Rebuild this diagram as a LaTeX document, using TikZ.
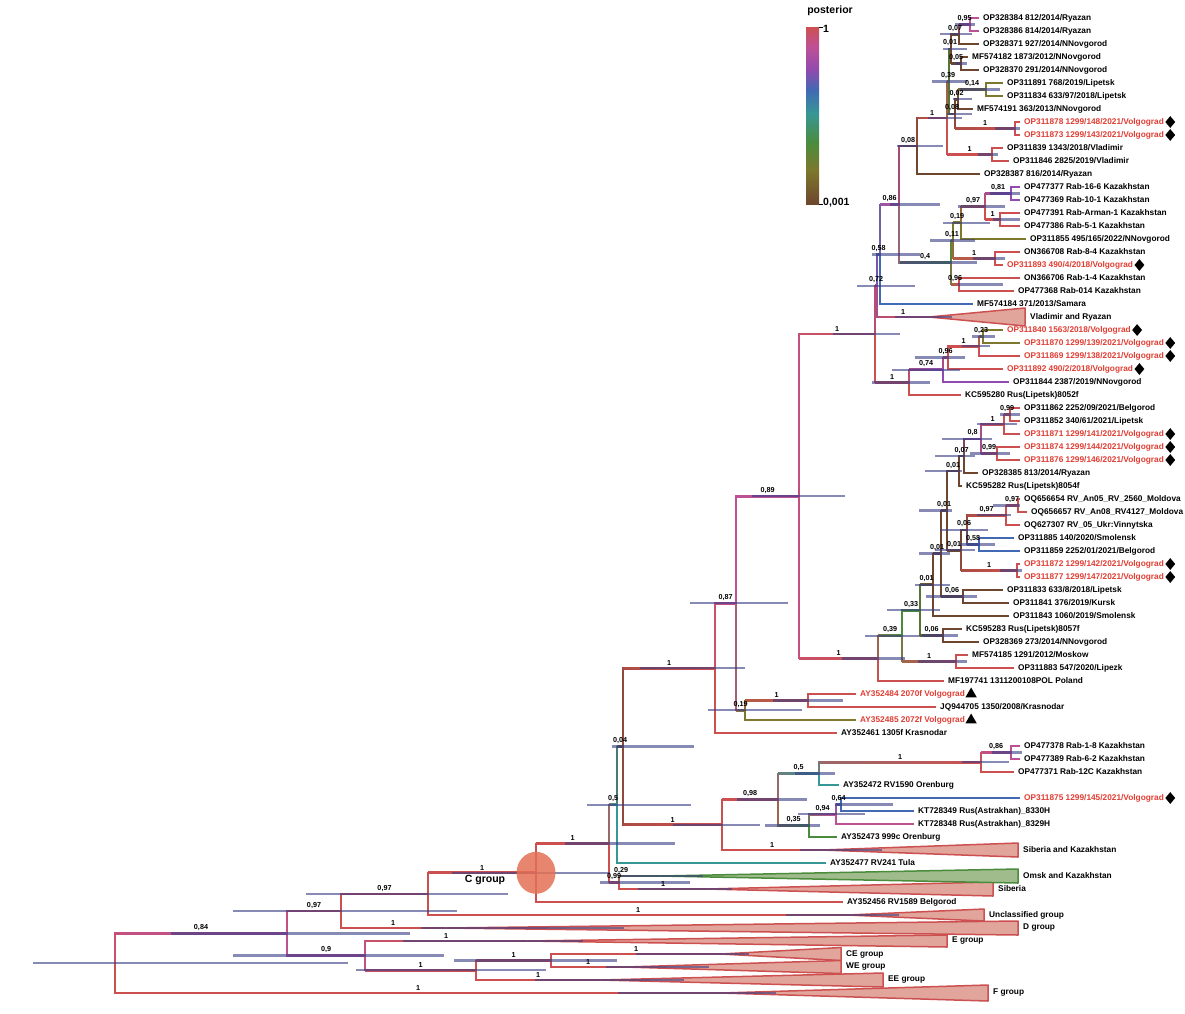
\documentclass[tikz,border=0pt]{standalone}
\usepackage{fontspec}
\setmainfont{Liberation Sans}
\usetikzlibrary{calc,positioning,shapes.geometric}

\definecolor{pR}{RGB}{205,80,80}
\definecolor{pM}{RGB}{190,80,150}
\definecolor{pV}{RGB}{145,75,175}
\definecolor{pB}{RGB}{65,105,180}
\definecolor{pT}{RGB}{55,150,150}
\definecolor{pG}{RGB}{75,140,60}
\definecolor{pO}{RGB}{125,120,45}
\definecolor{pN}{RGB}{110,70,45}
\definecolor{barblue}{RGB}{55,60,130}
\definecolor{wedgefill}{RGB}{225,165,155}
\definecolor{wedgegreen}{RGB}{160,188,140}
\definecolor{labred}{RGB}{225,60,50}
\definecolor{cgroupdot}{RGB}{228,112,85}

\pgfdeclareverticalshading{postshade}{100bp}{color(0bp)=(pN); color(25bp)=(pN); color(34.6bp)=(pO); color(42.2bp)=(pG); color(50.7bp)=(pT); color(57.2bp)=(pB); color(62.9bp)=(pV); color(69.4bp)=(pM); color(75bp)=(pR); color(100bp)=(pR)}

\tikzset{
  branch/.style={line width=1.8pt, line cap=rect},
  hpd/.style={line width=2.4pt, draw=barblue, draw opacity=0.6},
  tip/.style={anchor=west, inner xsep=5pt, inner ysep=0pt, font=\fontsize{8.3}{9}\selectfont\bfseries},
  tipred/.style={tip, text=labred},
  grp/.style={tip},
  supp/.style={above, inner sep=0.6pt, yshift=2pt, font=\fontsize{7.2}{8}\selectfont\bfseries},
  leg/.style={inner sep=1pt, font=\fontsize{10.5}{12}\selectfont\bfseries},
  wedgeR/.style={draw=pR, fill=wedgefill, line width=1.5pt, line join=round},
  wedgeG/.style={draw=pG, fill=wedgegreen, line width=1.5pt, line join=round},
  diam/.style={diamond, fill=black, inner sep=0pt, minimum width=10pt, minimum height=12pt},
  tri/.style={regular polygon, regular polygon sides=3, fill=black, inner sep=0pt, minimum size=13pt},
}

% branch: vertical at the parent, horizontal fading into the child colour
\newcommand{\brch}[4]{%
  \colorlet{brV}{#3!65!#4}\colorlet{brL}{#3!35!#4}\colorlet{brR}{#4}%
  \draw[branch, draw=brV] (#1) -- (#1 |- #2);
  \shade[left color=brL, right color=brR] ($(#1 |- #2)+(0,-0.9)$) rectangle ($(#2)+(0,0.9)$);}

\begin{document}
\begin{tikzpicture}[x=1pt,y=-1pt]
\useasboundingbox (0,0) rectangle (1185,1013);

% internal nodes
\coordinate (root) at (115,963.2);
\coordinate (n287) at (287,933.3);
\coordinate (n341) at (341,911);
\coordinate (n428) at (428,893.9);
\coordinate (n536) at (536,872.8);
\coordinate (n365) at (365,955.6);
\coordinate (n476) at (476,970.25);
\coordinate (n551) at (551,960.5);
\coordinate (n611) at (609,843.6);
\coordinate (n617) at (617,804.7);
\coordinate (n618) at (619,882.5);
\coordinate (n624) at (623,746.5);
\coordinate (n716) at (715,668.1);
\coordinate (n722) at (722,824.8);
\coordinate (n777) at (778,799.6);
\coordinate (n820) at (819,773.6);
\coordinate (n981) at (981,762.25);
\coordinate (n1013) at (1011,752.5);
\coordinate (n809) at (809,825.6);
\coordinate (n835) at (836,814.25);
\coordinate (n841) at (841,804.5);
\coordinate (n735) at (736,603.2);
\coordinate (n745) at (745,710.25);
\coordinate (n810) at (808,700.5);
\coordinate (n798) at (799,496.2);
\coordinate (n878) at (878,658.4);
\coordinate (n903) at (902,635.8);
\coordinate (n921) at (920,610.1);
\coordinate (n942) at (943,635.5);
\coordinate (n956) at (956,661.5);
\coordinate (nA) at (933,584.8);
\coordinate (nB) at (941,553.6);
\coordinate (nC) at (947,510.6);
\coordinate (n962) at (963,596.5);
\coordinate (nD) at (959,471);
\coordinate (n007b) at (964,456);
\coordinate (n08) at (981,438.9);
\coordinate (n1003) at (1004,424.25);
\coordinate (n1009) at (1010,414.5);
\coordinate (n996) at (997,453.5);
\coordinate (nE) at (961,550.2);
\coordinate (n966) at (967,529.9);
\coordinate (n1005) at (1006,515.25);
\coordinate (n1016) at (1018,505.5);
\coordinate (n978) at (979,544.5);
\coordinate (n1017V) at (1017,570.5);
\coordinate (n875) at (875,334);
\coordinate (n909) at (909,382.4);
\coordinate (n074) at (943,369.8);
\coordinate (n096) at (948,357.6);
\coordinate (n963) at (979,346.25);
\coordinate (n023) at (983,336.5);
\coordinate (n072) at (877,285.7);
\coordinate (n058) at (880,254.3);
\coordinate (n086) at (899,204.6);
\coordinate (n04) at (951,262.6);
\coordinate (n011) at (953,240.6);
\coordinate (n096b) at (959,284.5);
\coordinate (n019) at (961,222.75);
\coordinate (n1kz) at (995,258.5);
\coordinate (n097) at (985,206.5);
\coordinate (n081) at (1011,193.5);
\coordinate (n1b) at (1000,219.5);
\coordinate (n917) at (917,146);
\coordinate (n948) at (947,117.9);
\coordinate (n1Vl) at (992,154.5);
\coordinate (n039) at (949,81.4);
\coordinate (n001) at (951,48.9);
\coordinate (n007) at (959,34.25);
\coordinate (n095) at (970,24.5);
\coordinate (n005) at (961,63.5);
\coordinate (n008b) at (955,113.9);
\coordinate (n002) at (958,99.25);
\coordinate (n014) at (986,89.5);
\coordinate (n1V) at (1015,128.5);

% collapsed clades (apex of each wedge)
\coordinate (w24) at (929,317);
\coordinate (w65) at (822,850);
\coordinate (w67) at (660,876);
\coordinate (w68) at (707,889);
\coordinate (w70) at (848,915);
\coordinate (w71) at (445,928);
\coordinate (w72) at (527,941);
\coordinate (w73) at (721,954);
\coordinate (w74) at (625,967);
\coordinate (w75) at (600,980);
\coordinate (w76) at (721,993);

% tips
\node[tip] (t1) at (978,18) {OP328384 812/2014/Ryazan};
\node[tip] (t2) at (978,31) {OP328386 814/2014/Ryazan};
\node[tip] (t3) at (978,44) {OP328371 927/2014/NNovgorod};
\node[tip] (t4) at (967,57) {MF574182 1873/2012/NNovgorod};
\node[tip] (t5) at (978,70) {OP328370 291/2014/NNovgorod};
\node[tip] (t6) at (1002,83) {OP311891 768/2019/Lipetsk};
\node[tip] (t7) at (1002,96) {OP311834 633/97/2018/Lipetsk};
\node[tip] (t8) at (972,109) {MF574191 363/2013/NNovgorod};
\node[tipred] (t9) at (1019,122) {OP311878 1299/148/2021/Volgograd};
\node[tipred] (t10) at (1019,135) {OP311873 1299/143/2021/Volgograd};
\node[tip] (t11) at (1002,148) {OP311839 1343/2018/Vladimir};
\node[tip] (t12) at (1008,161) {OP311846 2825/2019/Vladimir};
\node[tip] (t13) at (979,174) {OP328387 816/2014/Ryazan};
\node[tip] (t14) at (1019,187) {OP477377 Rab-16-6 Kazakhstan};
\node[tip] (t15) at (1019,200) {OP477369 Rab-10-1 Kazakhstan};
\node[tip] (t16) at (1019,213) {OP477391 Rab-Arman-1 Kazakhstan};
\node[tip] (t17) at (1019,226) {OP477386 Rab-5-1 Kazakhstan};
\node[tip] (t18) at (1025,239) {OP311855 495/165/2022/NNovgorod};
\node[tip] (t19) at (1019,252) {ON366708 Rab-8-4 Kazakhstan};
\node[tipred] (t20) at (1002,265) {OP311893 490/4/2018/Volgograd};
\node[tip] (t21) at (1019,278) {ON366706 Rab-1-4 Kazakhstan};
\node[tip] (t22) at (1013,291) {OP477368 Rab-014 Kazakhstan};
\node[tip] (t23) at (972,304) {MF574184 371/2013/Samara};
\node[grp] (g24) at (1025,317) {Vladimir and Ryazan};
\node[tipred] (t25) at (1002,330) {OP311840 1563/2018/Volgograd};
\node[tipred] (t26) at (1019,343) {OP311870 1299/139/2021/Volgograd};
\node[tipred] (t27) at (1019,356) {OP311869 1299/138/2021/Volgograd};
\node[tipred] (t28) at (1002,369) {OP311892 490/2/2018/Volgograd};
\node[tip] (t29) at (1008,382) {OP311844 2387/2019/NNovgorod};
\node[tip] (t30) at (960,395) {KC595280 Rus(Lipetsk)8052f};
\node[tip] (t31) at (1019,408) {OP311862 2252/09/2021/Belgorod};
\node[tip] (t32) at (1019,421) {OP311852 340/61/2021/Lipetsk};
\node[tipred] (t33) at (1019,434) {OP311871 1299/141/2021/Volgograd};
\node[tipred] (t34) at (1019,447) {OP311874 1299/144/2021/Volgograd};
\node[tipred] (t35) at (1019,460) {OP311876 1299/146/2021/Volgograd};
\node[tip] (t36) at (977,473) {OP328385 813/2014/Ryazan};
\node[tip] (t37) at (961,486) {KC595282 Rus(Lipetsk)8054f};
\node[tip] (t38) at (1019,499) {OQ656654 RV\_An05\_RV\_2560\_Moldova};
\node[tip] (t39) at (1026,512) {OQ656657 RV\_An08\_RV4127\_Moldova};
\node[tip] (t40) at (1019,525) {OQ627307 RV\_05\_Ukr:Vinnytska};
\node[tip] (t41) at (1013,538) {OP311885 140/2020/Smolensk};
\node[tip] (t42) at (1019,551) {OP311859 2252/01/2021/Belgorod};
\node[tipred] (t43) at (1019,564) {OP311872 1299/142/2021/Volgograd};
\node[tipred] (t44) at (1019,577) {OP311877 1299/147/2021/Volgograd};
\node[tip] (t45) at (1002,590) {OP311833 633/8/2018/Lipetsk};
\node[tip] (t46) at (1008,603) {OP311841 376/2019/Kursk};
\node[tip] (t47) at (1008,616) {OP311843 1060/2019/Smolensk};
\node[tip] (t48) at (961,629) {KC595283 Rus(Lipetsk)8057f};
\node[tip] (t49) at (978,642) {OP328369 273/2014/NNovgorod};
\node[tip] (t50) at (967,655) {MF574185 1291/2012/Moskow};
\node[tip] (t51) at (1013,668) {OP311883 547/2020/Lipezk};
\node[tip] (t52) at (943,681) {MF197741 1311200108POL Poland};
\node[tipred] (t53) at (855,694) {AY352484 2070f Volgograd};
\node[tip] (t54) at (935,707) {JQ944705 1350/2008/Krasnodar};
\node[tipred] (t55) at (855,720) {AY352485 2072f Volgograd};
\node[tip] (t56) at (836,733) {AY352461 1305f Krasnodar};
\node[tip] (t57) at (1019,746) {OP477378 Rab-1-8 Kazakhstan};
\node[tip] (t58) at (1019,759) {OP477389 Rab-6-2 Kazakhstan};
\node[tip] (t59) at (1013,772) {OP477371 Rab-12C Kazakhstan};
\node[tip] (t60) at (838,785) {AY352472 RV1590 Orenburg};
\node[tipred] (t61) at (1019,798) {OP311875 1299/145/2021/Volgograd};
\node[tip] (t62) at (913,811) {KT728349 Rus(Astrakhan)\_8330H};
\node[tip] (t63) at (913,824) {KT728348 Rus(Astrakhan)\_8329H};
\node[tip] (t64) at (836,837) {AY352473 999c Orenburg};
\node[grp] (g65) at (1018,850) {Siberia and Kazakhstan};
\node[tip] (t66) at (825,863) {AY352477 RV241 Tula};
\node[grp] (g67) at (1018,876) {Omsk and Kazakhstan};
\node[grp] (g68) at (993,889) {Siberia};
\node[tip] (t69) at (842,902) {AY352456 RV1589 Belgorod};
\node[grp] (g70) at (984,915) {Unclassified group};
\node[grp] (g71) at (1018,928) {D group};
\node[grp] (g72) at (947,941) {E group};
\node[grp] (g73) at (841,954) {CE group};
\node[grp] (g74) at (841,967) {WE group};
\node[grp] (g75) at (883,980) {EE group};
\node[grp] (g76) at (988,993) {F group};

% branches between internal nodes
\foreach \p/\c/\pc/\cc in {n007/n095/pN/pM, n001/n007/pN/pN, n001/n005/pN/pN, n039/n001/pG/pN,
  n002/n014/pN/pO, n008b/n002/pN/pN, n008b/n1V/pN/pR, n039/n008b/pG/pN, n948/n039/pR/pG,
  n948/n1Vl/pR/pR, n917/n948/pN/pR, n086/n917/pM/pN, n097/n081/pR/pV, n097/n1b/pR/pR,
  n019/n097/pO/pR, n011/n019/pO/pO, n011/n1kz/pO/pR, n04/n011/pG/pO, n04/n096b/pG/pR,
  n086/n04/pM/pG, n058/n086/pB/pM, n072/n058/pV/pB, n072/w24/pV/pR, n875/n072/pR/pV,
  n963/n023/pR/pO, n096/n963/pR/pR, n074/n096/pV/pR, n909/n074/pR/pV, n875/n909/pR/pR,
  n798/n875/pM/pR, n1003/n1009/pR/pR, n08/n1003/pV/pR, n08/n996/pV/pR, n007b/n08/pN/pV,
  nD/n007b/pN/pN, nC/nD/pN/pN, n1005/n1016/pR/pR, n966/n1005/pN/pR, n966/n978/pN/pB,
  nE/n966/pN/pN, nE/n1017V/pN/pR, nC/nE/pN/pN, nB/nC/pN/pN, nB/n962/pN/pN, nA/nB/pN/pN,
  n921/nA/pG/pN, n921/n942/pG/pN, n903/n921/pG/pG, n903/n956/pG/pR, n878/n903/pR/pG,
  n798/n878/pM/pR, n735/n798/pM/pM, n745/n810/pO/pR, n735/n745/pM/pO, n716/n735/pR/pM,
  n624/n716/pN/pR, n981/n1013/pR/pM, n820/n981/pT/pR, n777/n820/pR/pT, n835/n841/pM/pB,
  n809/n835/pG/pM, n777/n809/pR/pG, n722/n777/pR/pR, n722/w65/pR/pR, n624/n722/pN/pR,
  n617/n624/pT/pN, n611/n617/pR/pT, n618/w67/pR/pG, n618/w68/pR/pR, n611/n618/pR/pR,
  n536/n611/pR/pR, n428/n536/pR/pR, n428/w70/pR/pR, n341/n428/pR/pR, n341/w71/pR/pR,
  n287/n341/pM/pR, n365/w72/pM/pR, n551/w73/pR/pR, n551/w74/pR/pR, n476/n551/pR/pR,
  n476/w75/pR/pR, n365/n476/pM/pR, n287/n365/pM/pM, root/n287/pR/pM, root/w76/pR/pR}
  {\brch{\p}{\c}{\pc}{\cc}}

% branches to the tips
\foreach \p/\t/\c in {n095/t1/pM, n095/t2/pM, n007/t3/pN, n005/t4/pN, n005/t5/pN, n014/t6/pO,
  n014/t7/pO, n002/t8/pN, n1V/t9/pR, n1V/t10/pR, n1Vl/t11/pR, n1Vl/t12/pR, n917/t13/pN,
  n081/t14/pV, n081/t15/pV, n1b/t16/pR, n1b/t17/pR, n019/t18/pO, n1kz/t19/pR, n1kz/t20/pR,
  n096b/t21/pR, n096b/t22/pR, n058/t23/pB, n023/t25/pO, n023/t26/pO, n963/t27/pR,
  n096/t28/pR, n074/t29/pV, n909/t30/pR, n1009/t31/pR, n1009/t32/pR, n1003/t33/pR,
  n996/t34/pR, n996/t35/pR, n007b/t36/pN, nD/t37/pN, n1016/t38/pR, n1016/t39/pR,
  n1005/t40/pR, n978/t41/pB, n978/t42/pB, n1017V/t43/pR, n1017V/t44/pR, n962/t45/pN,
  n962/t46/pN, nA/t47/pN, n942/t48/pN, n942/t49/pN, n956/t50/pR, n956/t51/pR, n878/t52/pR,
  n810/t53/pR, n810/t54/pR, n745/t55/pO, n716/t56/pR, n1013/t57/pM, n1013/t58/pM,
  n981/t59/pR, n820/t60/pT, n841/t61/pB, n841/t62/pB, n835/t63/pM, n809/t64/pG,
  n617/t66/pT, n536/t69/pR}
  {\colorlet{tipc}{\c}\draw[branch, draw=tipc] (\p) |- (\t.west);}

% collapsed clades
\foreach \w/\r/\h in {w24/1025/9, w65/1018/7, w68/993/7, w70/984/6, w71/1018/7, w72/947/6,
  w73/841/6.5, w74/841/6.5, w75/883/7, w76/988/8}
  {\filldraw[wedgeR] let \p1=(\w) in (\w) -- (\r pt,\y1-\h pt) -- (\r pt,\y1+\h pt) -- cycle;}
\filldraw[wedgeG] let \p1=(w67) in (w67) -- (1018pt,\y1-7pt) -- (1018pt,\y1+7pt) -- cycle;

% 95% HPD bars
\foreach \nd/\a/\b in {root/33/348, n287/171/410, n341/233/457, n428/306/508, n536/452/610,
  n365/233/444, n476/356/546, n551/454/617, n611/565/675, n617/587/691, n618/600/690,
  n624/612/694, n716/640/745, n722/673/760, n777/737/807, n820/795/835, n981/962/1009,
  n1013/992/1022, n809/765/820, n835/798/865, n841/835/893, n735/690/788, n745/708/802,
  n810/773/843, n798/752/845, n875/833/900, n878/842/905, n903/865/920, n921/887/940,
  n942/922/958, nA/915/950, nB/919/950, nC/919/952, nD/925/962, n007b/935/975,
  n08/942/992, n1003/977/1017, n1009/1000/1020, n996/970/1010, nE/935/975, n966/940/988,
  n1005/977/1011, n1016/993/1020, n978/960/995, n1017V/1000/1022, n962/926/977,
  n956/918/967, n909/872/930, n074/892/960, n096/915/965, n963/962/990, n023/972/995,
  n072/857/915, n058/872/920, n04/900/977, n086/890/940, n917/897/943, n948/928/962,
  n039/932/967, n001/943/967, n007/940/972, n095/955/975, n005/955/967, n008b/947/972,
  n002/953/972, n014/960/1000, n1V/995/1020, n1Vl/978/998, n011/930/975, n019/943/990,
  n097/958/1005, n081/990/1020, n1b/993/1020, n1kz/973/1005, n096b/958/1003,
  w24/895/952, w65/800/882, w67/620/703, w68/638/732, w70/786/899, w71/421/624,
  w72/403/583, w73/636/749, w74/606/709, w75/535/684, w76/618/776}
  {\draw[hpd] let \p1=(\nd) in (\a pt,\y1) -- (\b pt,\y1);}

% C group marker
\fill[cgroupdot, fill opacity=0.85] (n536) ellipse [x radius=19.5, y radius=21];
\node[font=\fontsize{10.5}{12}\selectfont\bfseries] (cgrp) at (485,880) {C group};

% posterior values
\foreach \p/\c/\s in {n007/n095/{0,95}, n001/n007/{0,07}, n001/n005/{0,05}, n039/n001/{0,01},
  n002/n014/{0,14}, n008b/n002/{0,02}, n008b/n1V/1, n039/n008b/{0,08}, n948/n039/{0,39},
  n948/n1Vl/1, n917/n948/1, n086/n917/{0,08}, n097/n081/{0,81}, n097/n1b/1, n019/n097/{0,97},
  n011/n019/{0,19}, n011/n1kz/1, n04/n011/{0,11}, n04/n096b/{0,96}, n086/n04/{0,4},
  n058/n086/{0,86}, n072/n058/{0,58}, n072/w24/1, n875/n072/{0,72}, n963/n023/{0,23},
  n096/n963/1, n074/n096/{0,96}, n909/n074/{0,74}, n875/n909/1, n798/n875/1,
  n1003/n1009/{0,99}, n08/n1003/1, n08/n996/{0,99}, n007b/n08/{0,8}, nD/n007b/{0,07},
  nC/nD/{0,01}, n1005/n1016/{0,97}, n966/n1005/{0,97}, n966/n978/{0,58}, nE/n966/{0,06},
  nE/n1017V/1, nC/nE/{0,01}, nB/nC/{0,01}, nB/n962/{0,06}, nA/nB/{0,01}, n921/nA/{0,01},
  n921/n942/{0,06}, n903/n921/{0,33}, n903/n956/1, n878/n903/{0,39}, n798/n878/1,
  n735/n798/{0,89}, n745/n810/1, n735/n745/{0,19}, n716/n735/{0,87}, n624/n716/1,
  n981/n1013/{0,86}, n820/n981/1, n777/n820/{0,5}, n835/n841/{0,64}, n809/n835/{0,94},
  n777/n809/{0,35}, n722/n777/{0,98}, n722/w65/1, n624/n722/1, n617/n624/{0,04},
  n611/n617/{0,5}, n611/n618/{0,99}, n618/w68/1, n536/n611/1, n428/n536/1, n428/w70/1,
  n341/n428/{0,97}, n341/w71/1, n287/n341/{0,97}, n365/w72/1, n551/w73/1, n551/w74/1,
  n476/n551/1, n476/w75/1, n365/n476/1, n287/n365/{0,9}, root/n287/{0,84}, root/w76/1}
  {\path (\p |- \c) -- (\c) node[supp, midway] {\s};}
\path (n618 |- w67) -- (w67) node[supp, pos=0.05] {0,29};

% Volgograd markers
\foreach \t in {t9,t10,t20,t25,t26,t27,t28,t33,t34,t35,t43,t44,t61}
  \node[diam, right=-4pt of \t] (d\t) {};
\foreach \t in {t53,t55}
  \node[tri, right=-3pt of \t] (d\t) {};

% legend
\shade[shading=postshade] (806,27) rectangle (819,204);
\draw[line width=0.6pt] (819,27) -- (823,27);
\draw[line width=0.6pt] (819,204) -- (823,204);
\node[leg] (ptitle) at (830,11) {posterior};
\node[leg, anchor=west] (pmax) at (822,29) {1};
\node[leg, anchor=west] (pmin) at (822,203) {0,001};

\end{tikzpicture}
\end{document}
